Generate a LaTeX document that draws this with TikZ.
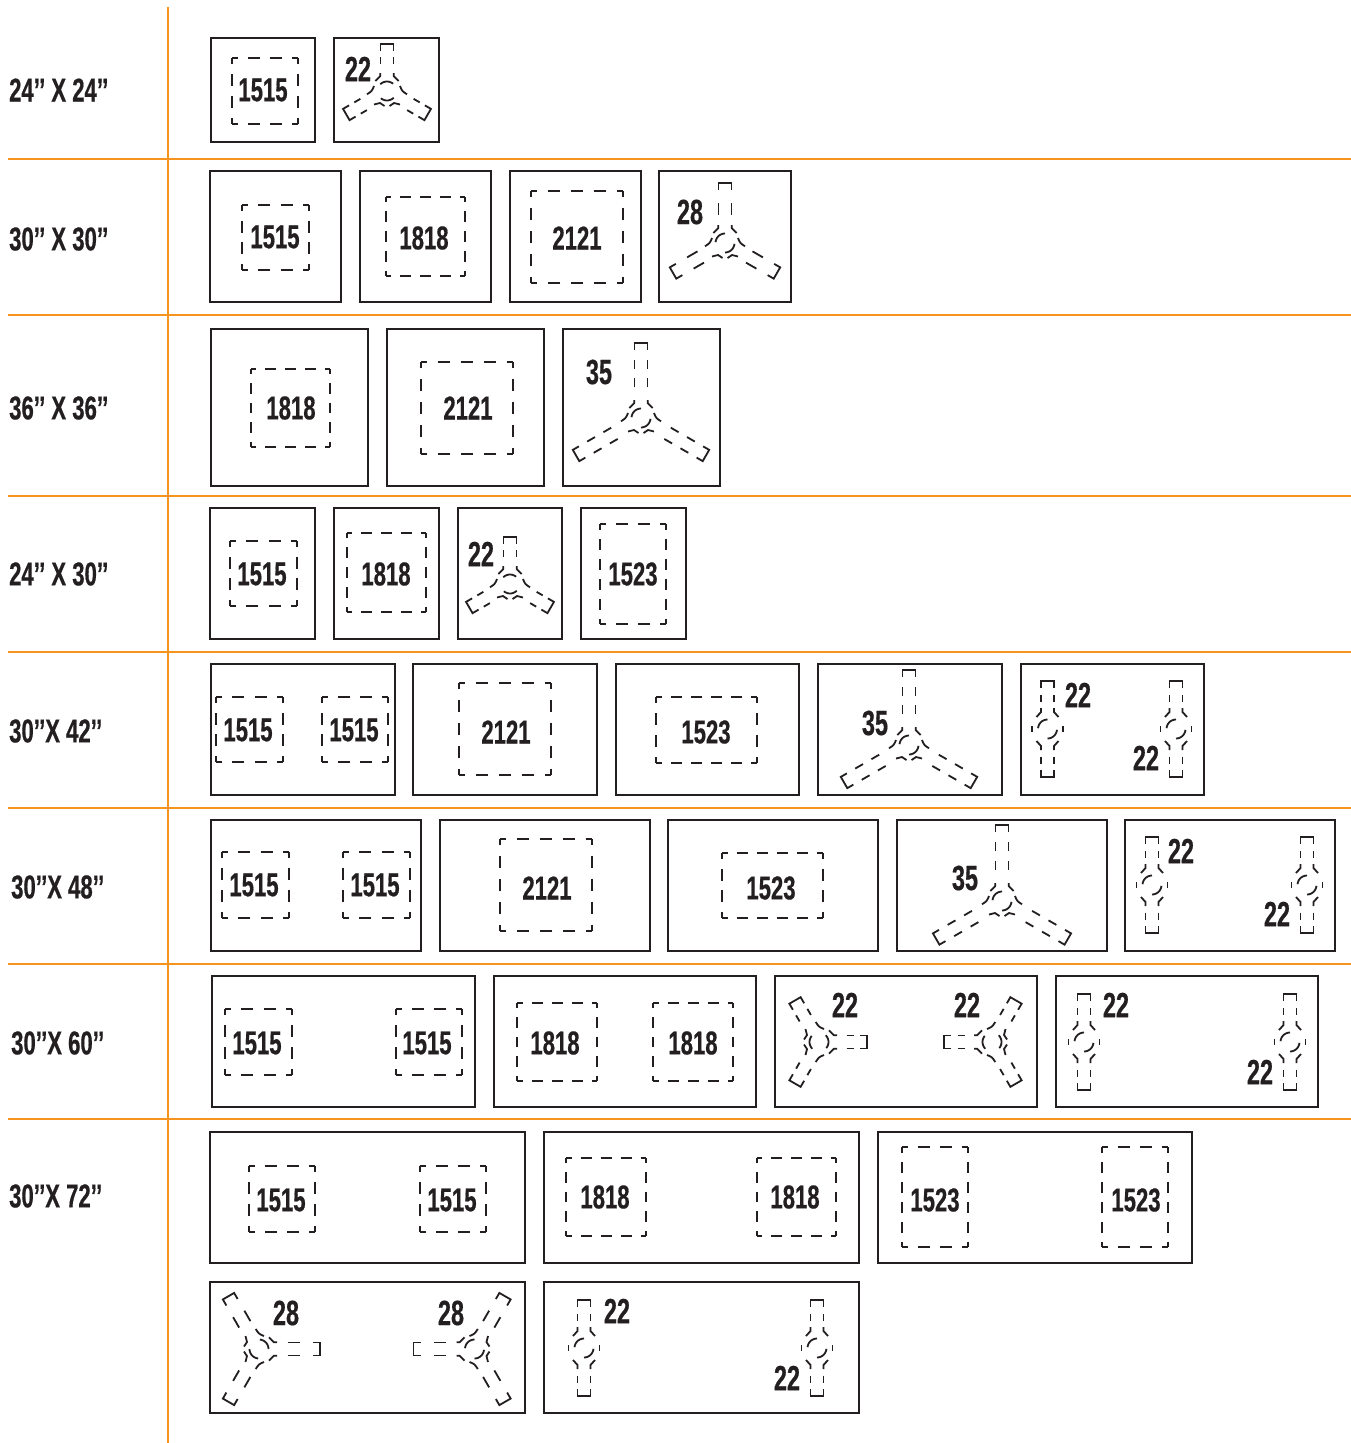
\documentclass[tikz,border=0pt]{standalone}
\usepackage{fontspec}
\setmainfont{Liberation Sans}
\newfontfamily\condb[FakeStretch=0.67,FakeBold=0.5]{Liberation Sans Bold}
\definecolor{ink}{HTML}{231F20}
\definecolor{rule}{HTML}{F7941E}
\newcounter{nid}
\tikzset{
  frameline/.style={draw=ink,line width=2pt},
  dl/.style={draw=ink,line width=1.8pt},
  ruleline/.style={draw=rule,line width=2pt},
  numtext/.style={inner sep=0pt,text=ink,font=\condb\fontsize{33}{33}\selectfont},
  bigtext/.style={numtext,font=\condb\fontsize{35}{35}\selectfont},
  rowtext/.style={numtext,anchor=west},
}
\newcommand\lab[3]{\stepcounter{nid}\node[numtext] (n\arabic{nid}) at (#1,#2) {#3};}
\newcommand\labb[3]{\stepcounter{nid}\node[bigtext] (n\arabic{nid}) at (#1,#2) {#3};}
\newcommand\rowlab[3]{\stepcounter{nid}\node[rowtext] (r\arabic{nid}) at (#1,#2) {#3};}
\newcommand\frm[4]{\draw[frameline] (#1,#2) rectangle (#3,#4);}
\newcommand\dside[4]{%
  \pgfmathsetmacro\slen{veclen(#3-#1,#4-#2)}%
  \pgfmathsetmacro\sper{\slen/round(\slen/21.5)}%
  \pgfmathsetmacro\sdash{0.55*\sper}%
  \pgfmathsetmacro\sgap{\sper-\sdash}%
  \pgfmathsetmacro\sph{\sdash/2}%
  \draw[dl,dash pattern=on \sdash pt off \sgap pt,dash phase=\sph pt] (#1,#2)--(#3,#4);}
\newcommand\drect[4]{\dside{#1}{#2}{#3}{#2}\dside{#3}{#2}{#3}{#4}\dside{#3}{#4}{#1}{#4}\dside{#1}{#4}{#1}{#2}}
\newcommand\armpart[3]{%
  \begin{scope}[rotate=#3]
    \draw[dl,line join=miter] (-6.5,-#1+7)--(-6.5,-#1)--(6.5,-#1)--(6.5,-#1+7);
    \pgfmathsetmacro\agap{(#1-7-\azero-#2*\adash)/(#2+1)}
    \foreach \i in {1,...,#2}{
      \pgfmathsetmacro\ra{\azero+\i*\agap+(\i-1)*\adash}
      \pgfmathsetmacro\rb{\ra+\adash}
      \draw[dl] (-6.5,-\ra)--(-6.5,-\rb);
      \draw[dl] (6.5,-\ra)--(6.5,-\rb);
    }
  \end{scope}}
\newcommand\innerarc[1]{%
  \draw[dl] plot[smooth,samples=8,domain=#1:#1+85] ({9.5*cos(\x)},{-9.5*sin(\x)});
  \draw[dl] plot[smooth,samples=8,domain=#1+180:#1+265] ({9.5*cos(\x)},{-9.5*sin(\x)});}
% cx cy L n rot arcstart
\newcommand\tripod[6]{%
  \begin{scope}[shift={(#1,#2)},rotate=#5]
    \pgfmathsetmacro\adash{#3<50?7:(#3<70?12:9)}
    \pgfmathsetmacro\azero{#3<50?21:(#3<70?15:21)}
    \armpart{#3}{#4}{0}\armpart{#3}{#4}{120}\armpart{#3}{#4}{-120}
    \foreach \s in {-1,1}{
      \draw[dl] (\s*6.7,-18)--(\s*6.7,-15)--(\s*11.7,-10);
      \draw[dl] (\s*13,-5) .. controls (\s*15,0) .. (\s*20,3.3);
      \draw[dl] (\s*13,13.5)--(\s*7,12)--(\s*2.5,15);
    }
    \innerarc{#6}
  \end{scope}}
\newcommand\dumb[2]{%
  \begin{scope}[shift={(#1,#2)}]
    \def\adash{7}\def\azero{21}
    \armpart{48}{1}{0}\armpart{48}{1}{180}
    \foreach \s in {-1,1}{
      \draw[dl] (\s*6.5,-21)--(\s*6.5,-17)--(\s*11,-12);
      \draw[dl] (\s*6.5,21)--(\s*6.5,17)--(\s*11,12);
      \draw[dl] (\s*15.5,-3)--(\s*15.5,3);
    }
    \innerarc{90}
  \end{scope}}
\begin{document}
\begin{tikzpicture}[x=1pt,y=-1pt]
\useasboundingbox (0,0) rectangle (1351,1443);
\fill[white] (0,0) rectangle (1351,1443);
\foreach \y in {159,315,496,652,808,964,1119}{\draw[ruleline] (8,\y)--(1351,\y);}
\draw[ruleline] (168,7)--(168,1443);
\rowlab{9}{90}{24’’ X 24’’}
\rowlab{9}{239}{30’’ X 30’’}
\rowlab{9}{408}{36’’ X 36’’}
\rowlab{9}{574}{24’’ X 30’’}
\rowlab{9}{731}{30’’X 42’’}
\rowlab{11}{887}{30’’X 48’’}
\rowlab{11}{1043}{30’’X 60’’}
\rowlab{9}{1196}{30’’X 72’’}
% row 1
\frm{211}{38}{315}{142}\drect{232}{58}{298}{124}\lab{263}{90}{1515}
\frm{334}{38}{439}{142}\tripod{387}{91}{47}{1}{0}{50}\labb{358}{69}{22}
% row 2
\frm{210}{171}{341}{302}\drect{242}{205}{309}{270}\lab{275}{237}{1515}
\frm{360}{171}{491}{302}\drect{386}{197}{465}{276}\lab{424}{238}{1818}
\frm{510}{171}{641}{302}\drect{531}{191}{623}{283}\lab{577}{238}{2121}
\frm{659}{171}{791}{302}\tripod{725}{243}{60}{1}{0}{90}\labb{690}{212}{28}
% row 3
\frm{211}{329}{368}{486}\drect{251}{369}{330}{447}\lab{291}{408}{1818}
\frm{387}{329}{544}{486}\drect{421}{362}{513}{454}\lab{468}{408}{2121}
\frm{563}{329}{720}{486}\tripod{641}{418}{75}{2}{0}{90}\labb{599}{372}{35}
% row 4
\frm{210}{508}{315}{639}\drect{230}{541}{297}{606}\lab{262}{574}{1515}
\frm{334}{508}{439}{639}\drect{347}{533}{426}{612}\lab{386}{574}{1818}
\frm{458}{508}{562}{639}\tripod{510}{584}{47}{1}{0}{50}\labb{481}{554}{22}
\frm{581}{508}{686}{639}\drect{600}{524}{666}{624}\lab{633}{574}{1523}
% row 5
\frm{211}{664}{395}{795}\drect{216}{697}{283}{762}\lab{248}{730}{1515}\drect{322}{697}{388}{762}\lab{354}{730}{1515}
\frm{413}{664}{597}{795}\drect{459}{683}{551}{775}\lab{506}{732}{2121}
\frm{616}{664}{799}{795}\drect{656}{697}{757}{763}\lab{706}{732}{1523}
\frm{818}{664}{1002}{795}\tripod{909}{745}{75}{2}{0}{90}\labb{875}{723}{35}
\frm{1021}{664}{1204}{795}\dumb{1047.5}{729}\dumb{1176}{729}\labb{1078}{695}{22}\labb{1146}{758}{22}
% row 6
\frm{211}{820}{421}{951}\drect{222}{852}{289}{918}\lab{254}{885}{1515}\drect{343}{852}{410}{918}\lab{375}{885}{1515}
\frm{440}{820}{650}{951}\drect{500}{839}{592}{931}\lab{547}{888}{2121}
\frm{668}{820}{878}{951}\drect{722}{853}{823}{918}\lab{771}{888}{1523}
\frm{897}{820}{1107}{951}\tripod{1002}{901}{76}{2}{0}{90}\labb{965}{878}{35}
\frm{1125}{820}{1335}{951}\dumb{1152}{885}\dumb{1307}{885}\labb{1181}{851}{22}\labb{1277}{914}{22}
% row 7
\frm{212}{976}{475}{1107}\drect{225}{1009}{292}{1075}\lab{257}{1043}{1515}\drect{396}{1009}{462}{1075}\lab{427}{1043}{1515}
\frm{494}{976}{756}{1107}\drect{517}{1003}{597}{1081}\lab{555}{1043}{1818}\drect{653}{1003}{733}{1081}\lab{693}{1043}{1818}
\frm{775}{976}{1037}{1107}\tripod{819}{1042}{48}{1}{-90}{50}\tripod{992}{1042}{48}{1}{90}{50}\labb{845}{1005}{22}\labb{967}{1005}{22}
\frm{1056}{976}{1318}{1107}\dumb{1084}{1042}\dumb{1290}{1042}\labb{1116}{1005}{22}\labb{1260}{1072}{22}
% row 8
\frm{210}{1132}{525}{1263}\drect{249}{1166}{315}{1232}\lab{281}{1200}{1515}\drect{420}{1166}{486}{1232}\lab{452}{1200}{1515}
\frm{544}{1132}{859}{1263}\drect{566}{1158}{646}{1236}\lab{605}{1197}{1818}\drect{757}{1158}{836}{1236}\lab{795}{1197}{1818}
\frm{878}{1132}{1192}{1263}\drect{902}{1147}{968}{1247}\lab{935}{1200}{1523}\drect{1102}{1147}{1168}{1247}\lab{1136}{1200}{1523}
% row 9
\frm{210}{1282}{525}{1413}\tripod{259}{1349}{61}{1}{-90}{90}\tripod{474.5}{1349}{61}{1}{90}{0}\labb{286}{1313}{28}\labb{451}{1313}{28}
\frm{544}{1282}{859}{1413}\dumb{584}{1348}\dumb{817}{1348}\labb{617}{1311}{22}\labb{787}{1378}{22}
\end{tikzpicture}
\end{document}
